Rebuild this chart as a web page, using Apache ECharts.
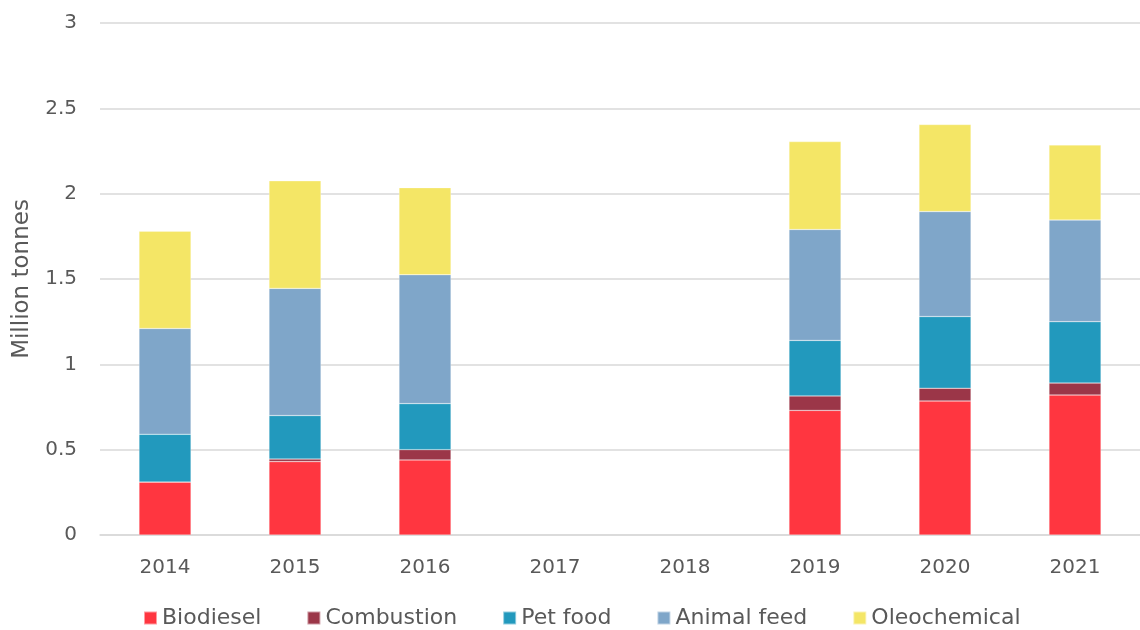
<!DOCTYPE html>
<html>
<head>
<meta charset="utf-8">
<script src="https://cdn.jsdelivr.net/npm/echarts@6/dist/echarts.min.js"></script>
<style>
    html, body { margin: 0; padding: 0; background: #fff; }
    #chart { width: 1140px; height: 630px; }
</style>
</head>
<body>
<div id="chart"></div>
<script>
// years on the x axis
var years = ['2014', '2015', '2016', '2017', '2018', '2019', '2020', '2021'];
// million tonnes per use, no data for 2017 and 2018
var biodiesel   = [0.31, 0.43, 0.44, null, null, 0.73, 0.785, 0.82];
var combustion  = [0.0, 0.015, 0.06, null, null, 0.085, 0.075, 0.07];
var petFood     = [0.28, 0.255, 0.27, null, null, 0.325, 0.42, 0.36];
var animalFeed  = [0.62, 0.745, 0.755, null, null, 0.65, 0.615, 0.595];
var oleochem    = [0.57, 0.63, 0.51, null, null, 0.515, 0.51, 0.44];

var font = '"DejaVu Sans", sans-serif';
var txt = '#595959';

var myChart = echarts.init(document.getElementById('chart'));

function bar(name, data, color) {
    return {
        name: name,
        type: 'bar',
        stack: 'total',
        barWidth: '40%',
        data: data,
        itemStyle: { color: color, borderColor: 'rgba(255,255,255,0.5)', borderWidth: 0.5 }
    };
}

var option = {
    backgroundColor: '#fff',
    animation: false,
    textStyle: { fontFamily: font },
    grid: { left: 100, right: 0, top: 23, bottom: 95, outerBoundsMode: 'none' },
    legend: {
        bottom: -4,
        left: 138,
        itemWidth: 13,
        itemHeight: 13,
        itemGap: 45,
        icon: 'rect',
        textStyle: { color: txt, fontSize: 22, fontFamily: font },
        data: ['Biodiesel', 'Combustion', 'Pet food', 'Animal feed', 'Oleochemical']
    },
    xAxis: {
        type: 'category',
        data: years,
        axisLine: { lineStyle: { color: '#d9d9d9', width: 1.5 } },
        axisTick: { show: false },
        axisLabel: { color: txt, fontSize: 20, margin: 23, fontFamily: font }
    },
    yAxis: {
        type: 'value',
        min: 0,
        max: 3,
        interval: 0.5,
        name: 'Million tonnes',
        nameLocation: 'middle',
        nameGap: 66,
        nameTextStyle: { color: txt, fontSize: 23, fontFamily: font },
        axisLine: { show: false },
        axisTick: { show: false },
        axisLabel: { color: txt, fontSize: 20, margin: 23, fontFamily: font },
        splitLine: { lineStyle: { color: '#d9d9d9', width: 1.5 } }
    },
    series: [
        bar('Biodiesel', biodiesel, '#FF3640'),
        bar('Combustion', combustion, '#9B3648'),
        bar('Pet food', petFood, '#2299BD'),
        bar('Animal feed', animalFeed, '#7FA6C9'),
        bar('Oleochemical', oleochem, '#F4E666')
    ]
};
myChart.setOption(option);
</script>
</body>
</html>
